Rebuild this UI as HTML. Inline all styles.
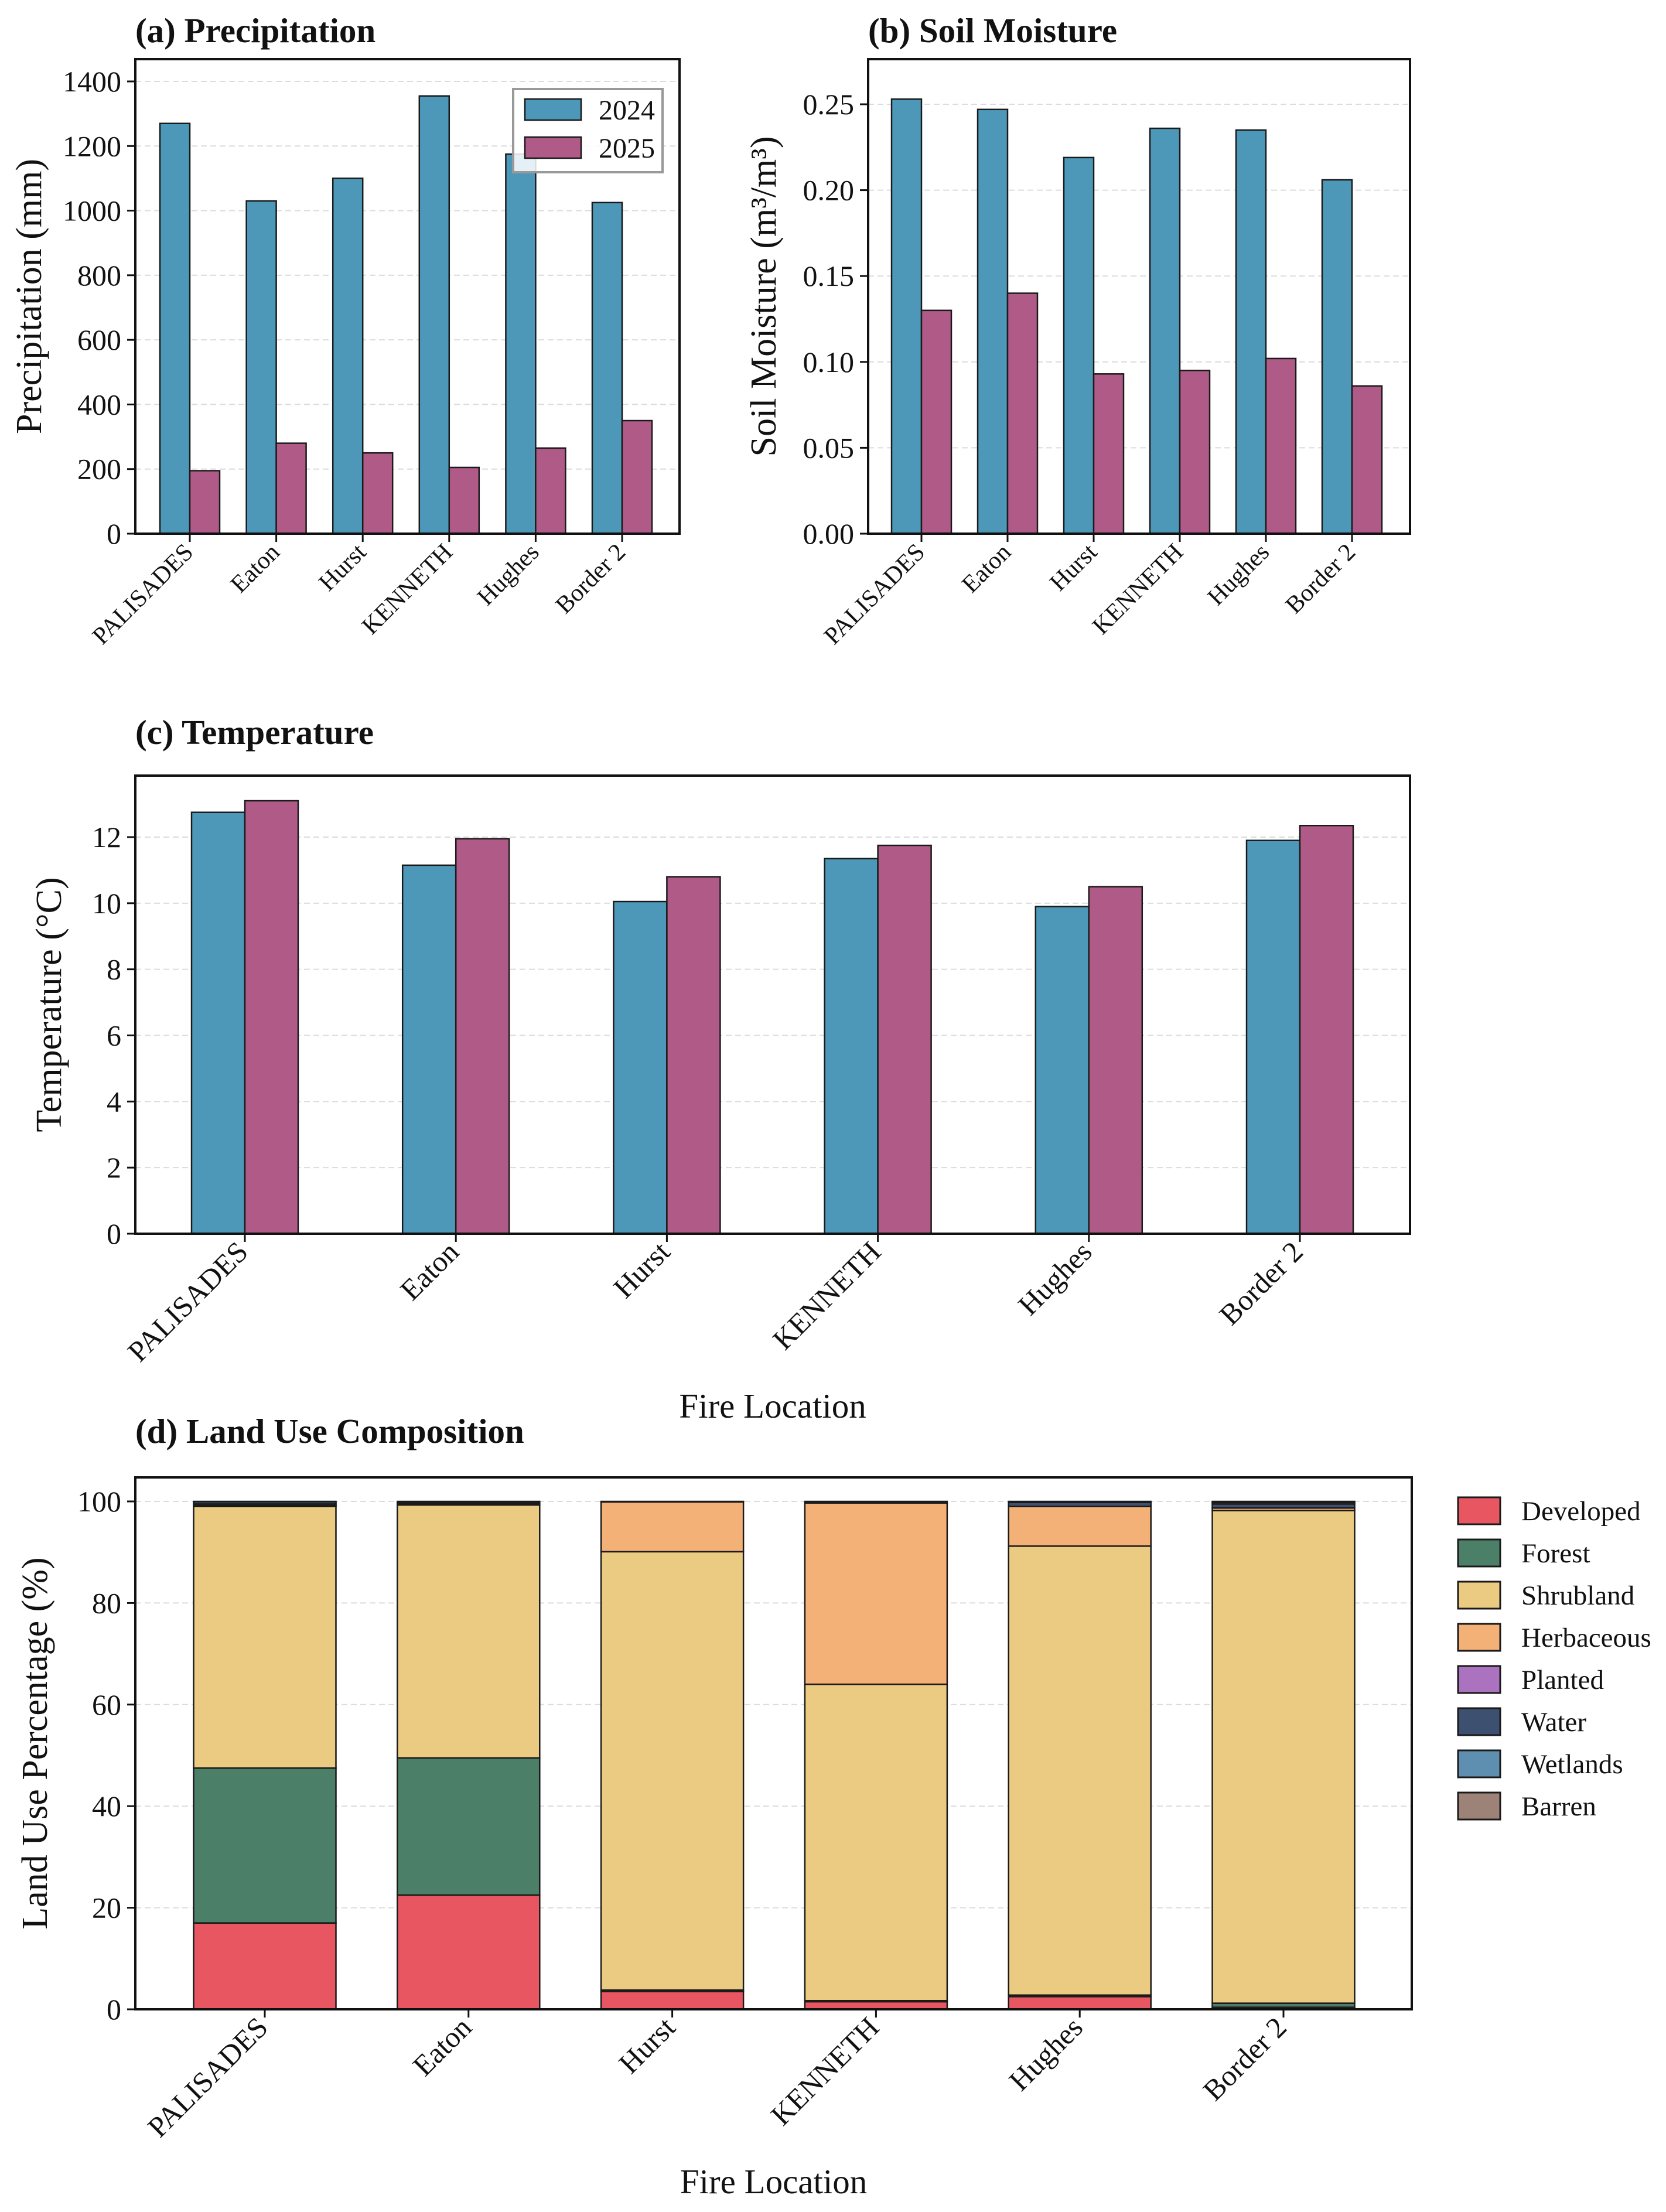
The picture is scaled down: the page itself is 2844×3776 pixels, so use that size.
<!DOCTYPE html>
<html><head><meta charset="utf-8">
<style>
html,body{margin:0;padding:0;background:#fff;}
svg{display:block;font-family:"Liberation Serif","DejaVu Serif",serif;}
</style></head>
<body>
<svg id="fig" width="2844" height="3776" viewBox="0 0 2844 3776" xmlns="http://www.w3.org/2000/svg"></svg>
<script>
const locations = ["PALISADES","Eaton","Hurst","KENNETH","Hughes","Border 2"];
const precip2024 = [1270,1030,1100,1355,1175,1025];
const precip2025 = [195,280,250,205,265,350];
const precipTicks = [0,200,400,600,800,1000,1200,1400];
const soil2024 = [0.253,0.247,0.219,0.236,0.235,0.206];
const soil2025 = [0.130,0.140,0.093,0.095,0.102,0.086];
const soilTicks = [0,0.05,0.10,0.15,0.20,0.25];
const soilTickLabels = ["0.00","0.05","0.10","0.15","0.20","0.25"];
const temp2024 = [12.75,11.15,10.05,11.35,9.9,11.9];
const temp2025 = [13.1,11.95,10.8,11.75,10.5,12.35];
const tempTicks = [0,2,4,6,8,10,12];
const landClasses = ["Developed","Forest","Shrubland","Herbaceous","Planted","Water","Wetlands","Barren"];
const landDeveloped = [17,22.5,3.5,1.5,2.5,0.4];
const landForest = [30.5,27,0.3,0.2,0.3,0.8];
const landShrubland = [51.5,49.8,86.3,62.3,88.4,97];
const landHerbaceous = [0.2,0.1,9.8,35.7,7.8,0.5];
const landPlanted = [0,0,0,0,0,0];
const landWater = [0.3,0.2,0.1,0.3,0.8,0.8];
const landWetlands = [0.4,0.3,0,0,0.2,0.3];
const landBarren = [0.1,0.1,0,0,0,0.2];
const landTicks = [0,20,40,60,80,100];

const NS="http://www.w3.org/2000/svg";
const svg=document.getElementById('fig');
function mk(tag,attrs,parent){const e=document.createElementNS(NS,tag);for(const k in attrs)e.setAttribute(k,attrs[k]);(parent||svg).appendChild(e);return e;}
function txt(s,attrs,parent){const e=mk('text',attrs,parent);e.textContent=s;return e;}
const C24="#4d98b8",C25="#b05a88";
const landColors=["#e85761","#4c7f68","#ebcb82","#f3b077","#ab72c0","#3d5070","#5f8fb0","#9c8277"];

function axes(o){
  const g=mk('g',{});
  
  
  const y=v=>o.b-(v-o.ymin)/(o.ymax-o.ymin)*(o.b-o.yTop);
  const x=i=>o.x0+i*o.dx;
  o.ticks.forEach((t,i)=>{
    const yy=y(t);
    const gl=mk('line',{x1:o.l,x2:o.r,y1:yy,y2:yy,stroke:"#dcdcdc","stroke-width":2,"stroke-dasharray":"10,6"},g);
    
    
  });
  return {g,x,y};
}
function frame(o,g,y,x){
  const fr=mk('rect',{x:o.l,y:o.t,width:o.r-o.l,height:o.b-o.t,fill:"none",stroke:"#111","stroke-width":4},g);
  
  
  o.ticks.forEach((t,i)=>{
    const yy=y(t);
    mk('line',{x1:o.l-14,x2:o.l,y1:yy,y2:yy,stroke:"#111","stroke-width":3},g);
    const tl=txt(o.tickLabels[i],{x:o.l-24,y:yy+17,"text-anchor":"end","font-size":50,fill:"#111"},g);
    
    
  });
  locations.forEach((n,i)=>{
    const xx=x(i);
    mk('line',{x1:xx,x2:xx,y1:o.b,y2:o.b+14,stroke:"#111","stroke-width":3},g);
    const tl=txt(n,{x:xx+8,y:o.b+34,"text-anchor":"end","font-size":o.xfs,fill:"#111",transform:`rotate(-45 ${xx+8} ${o.b+34})`},g);
    
    
  });
  const yl=txt(o.ylabel,{x:o.ylx,y:(o.t+o.b)/2,"text-anchor":"middle","font-size":o.ylfs||62,fill:"#111",transform:`rotate(-90 ${o.ylx} ${(o.t+o.b)/2})`},g);
  
  
  const ti=txt(o.title,{x:o.l,y:o.titleY,"font-size":59,"font-weight":"bold",fill:"#111"},g);
  
  
  if(o.xlabel){
    const xl=txt(o.xlabel,{x:(o.l+o.r)/2,y:o.xlY,"text-anchor":"middle","font-size":59,fill:"#111"},g);
    
    
  }
}
function groupedPanel(o,a,b){
  const {g,x,y}=axes(o);
  const w=o.bw;
  a.forEach((v,i)=>{
    const r=mk('rect',{x:x(i)-w,y:y(v),width:w,height:y(o.ymin)-y(v),fill:C24,stroke:"#1a1a1a","stroke-width":2.5},g);
    
    
  });
  b.forEach((v,i)=>{
    const r=mk('rect',{x:x(i),y:y(v),width:w,height:y(o.ymin)-y(v),fill:C25,stroke:"#1a1a1a","stroke-width":2.5},g);
    
    
  });
  frame(o,g,y,x);
  return g;
}

const ga=groupedPanel({name:"precipitation-panel",l:231,r:1160,t:101,b:911,yTop:139,ymin:0,ymax:1400,x0:324,dx:147.6,bw:51,
  ticks:precipTicks,tickLabels:precipTicks.map(String),xfs:42,ylabel:"Precipitation (mm)",ylx:70,title:"(a) Precipitation",titleY:72},precip2024,precip2025);
const lg=mk('g',{},ga);


mk('rect',{x:876,y:152,width:255,height:142,fill:"rgba(255,255,255,0.85)",stroke:"#999","stroke-width":4},lg);
[["2024",C24,187],["2025",C25,252]].forEach(([s,c,cy])=>{
  const p=mk('rect',{x:896,y:cy-18,width:96,height:36,fill:c,stroke:"#1a1a1a","stroke-width":2.5},lg);
  
  
  const t=txt(s,{x:1022,y:cy+17,"font-size":48,fill:"#111"},lg);
  
  
});

groupedPanel({name:"soil-moisture-panel",l:1482,r:2407,t:101,b:911,yTop:178,ymin:0,ymax:0.25,x0:1573,dx:147,bw:51,
  ticks:soilTicks,tickLabels:soilTickLabels,xfs:42,ylabel:"Soil Moisture (m³/m³)",ylx:1324,title:"(b) Soil Moisture",titleY:72},soil2024,soil2025);

groupedPanel({name:"temperature-panel",l:231,r:2407,t:1324,b:2106,yTop:1429,ymin:0,ymax:12,x0:418,dx:360.2,bw:91,
  ticks:tempTicks,tickLabels:tempTicks.map(String),xfs:50,ylabel:"Temperature (°C)",ylx:104,title:"(c) Temperature",titleY:1270,xlabel:"Fire Location",xlY:2420},temp2024,temp2025);

(function(){
  const o={name:"land-use-panel",l:231,r:2410,t:2522,b:3430,yTop:2563,ymin:0,ymax:100,x0:452,dx:347.8,
    ticks:landTicks,tickLabels:landTicks.map(String),xfs:50,ylabel:"Land Use Percentage (%)",ylx:80,title:"(d) Land Use Composition",titleY:2463,xlabel:"Fire Location",xlY:3744};
  const {g,x,y}=axes(o);
  const series=[landDeveloped,landForest,landShrubland,landHerbaceous,landPlanted,landWater,landWetlands,landBarren];
  const w=243;
  locations.forEach((n,i)=>{
    let cum=0;
    series.forEach((s,k)=>{
      const v=s[i];
      if(v<=0){return;}
      const y1=y(cum+v),y0=y(cum);
      const r=mk('rect',{x:x(i)-w/2,y:y1,width:w,height:y0-y1,fill:landColors[k],stroke:"#1a1a1a","stroke-width":2.5},g);
      
      
      cum+=v;
    });
  });
  frame(o,g,y,x);
  const lg=mk('g',{},g);
  
  
  landClasses.forEach((s,k)=>{
    const cy=2579+k*72;
    const p=mk('rect',{x:2489,y:cy-23,width:72,height:46,fill:landColors[k],stroke:"#1a1a1a","stroke-width":3},lg);
    
    
    const t=txt(s,{x:2597,y:cy+16,"font-size":47,fill:"#111"},lg);
    
    
  });
})();
</script>
</body></html>
